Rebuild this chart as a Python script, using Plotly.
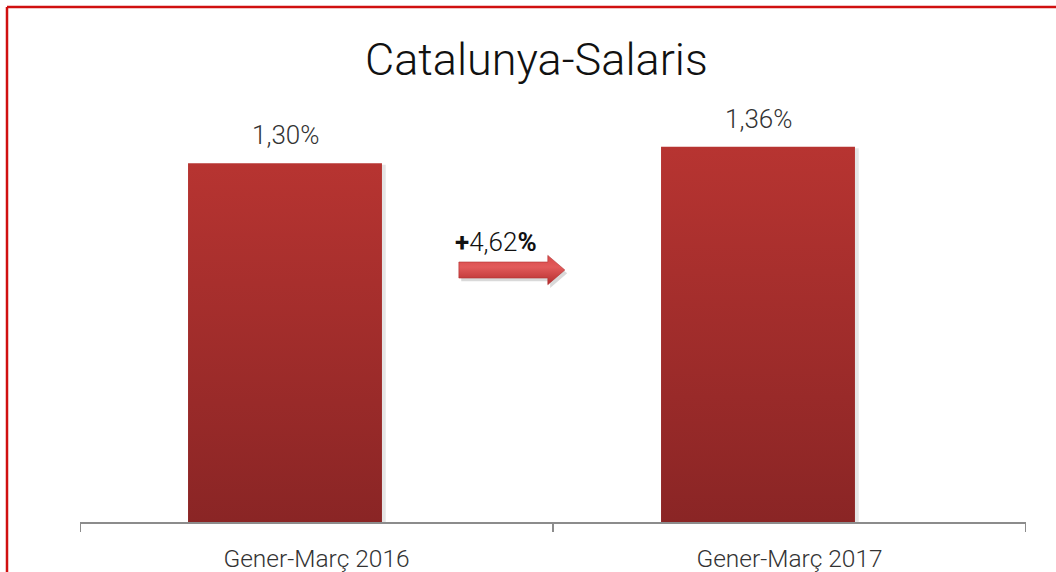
import plotly.graph_objects as go

categories = ["Gener-Març 2016", "Gener-Març 2017"]
values = [1.30, 1.36]
value_labels = ["1,30%", "1,36%"]
change_label = "<b>+</b>4,62<b>%</b>"
title = "Catalunya-Salaris"

FONT = "Roboto"
BAR_OFFSET = -0.0666
BAR_W = 0.41

fig = go.Figure()

# bars as gradient-filled polygons
for i, v in enumerate(values):
    c = i + 0.5 + BAR_OFFSET
    x0, x1 = c - BAR_W / 2, c + BAR_W / 2
    # soft shadow
    fig.add_trace(go.Scatter(
        x=[x0 + 0.006, x1 + 0.008, x1 + 0.008, x0 + 0.006, x0 + 0.006],
        y=[0, 0, v - 0.006, v - 0.006, 0],
        mode="lines", line=dict(width=0), fill="toself",
        fillcolor="rgba(0,0,0,0.10)", hoverinfo="skip", showlegend=False))
    fig.add_trace(go.Scatter(
        x=[x0, x1, x1, x0, x0], y=[0, 0, v, v, 0],
        mode="lines", line=dict(width=0), fill="toself",
        fillgradient=dict(type="vertical",
                          colorscale=[[0, "#8a2525"], [1, "#b73431"]]),
        hoverinfo="skip", showlegend=False, name=categories[i]))
    fig.add_annotation(x=c, y=v, text=value_labels[i], showarrow=False,
                       yanchor="bottom", yshift=11,
                       font=dict(family=FONT, size=26, color="#333333", weight=300))

# arrow (decoration)
ax = [0.801, 0.989, 0.989, 1.025, 0.989, 0.989, 0.801, 0.801]
ay = [0.942, 0.942, 0.966, 0.913, 0.860, 0.884, 0.884, 0.942]
fig.add_trace(go.Scatter(
    x=[a + 0.005 for a in ax], y=[b - 0.012 for b in ay],
    mode="lines", line=dict(width=0), fill="toself",
    fillcolor="rgba(0,0,0,0.15)", hoverinfo="skip", showlegend=False))
fig.add_trace(go.Scatter(
    x=ax, y=ay, mode="lines", line=dict(width=0.6, color="#b03030"),
    fill="toself",
    fillgradient=dict(type="vertical",
                      colorscale=[[0, "#b32d2d"], [0.6, "#e25a5a"], [1, "#d84a4a"]]),
    hoverinfo="skip", showlegend=False))
fig.add_annotation(x=0.8795, y=1.0145, text=change_label, showarrow=False,
                   font=dict(family=FONT, size=26, color="#111111", weight=300))

# title
fig.add_annotation(x=(536 - 80) / 946, xref="paper", y=(522 - 60) / 422, yref="paper",
                   text=title, showarrow=False, yanchor="middle", xanchor="center",
                   font=dict(family=FONT, size=45, color="#111111", weight=300))

# category tick marks at boundaries
for t in [0, 1, 2]:
    fig.add_shape(type="line", xref="x", yref="paper", x0=t, x1=t, y0=0, y1=-10 / 422,
                  line=dict(color="#8c8c8c", width=2))

# red frame (left + top)
fig.add_shape(type="line", xref="paper", yref="paper",
              x0=(7 - 80) / 946, x1=1.2, y0=(522 - 7) / 422, y1=(522 - 7) / 422,
              line=dict(color="#d01010", width=2.5))
fig.add_shape(type="line", xref="paper", yref="paper",
              x0=(7 - 80) / 946, x1=(7 - 80) / 946, y0=(522 - 7) / 422, y1=-0.3,
              line=dict(color="#d01010", width=2.5))

fig.update_layout(
    width=1056, height=572,
    margin=dict(l=80, r=30, t=100, b=50, autoexpand=False),
    plot_bgcolor="white", paper_bgcolor="white",
    showlegend=False,
    xaxis=dict(range=[0, 2], tickvals=[0.5, 1.5], ticktext=categories,
               showline=True, linecolor="#8c8c8c", linewidth=2,
               showgrid=False, zeroline=False, ticks="",
               ticklabelstandoff=14, automargin=False,
               tickfont=dict(family=FONT, size=24.5, color="#333333", weight=300),
               fixedrange=True),
    yaxis=dict(range=[0, 1.529], visible=False, showgrid=False, zeroline=False,
               automargin=False, fixedrange=True),
)

fig.write_html("out.html", config={"displayModeBar": False},
               post_script="document.body.style.margin='0';document.body.style.overflow='hidden';")
